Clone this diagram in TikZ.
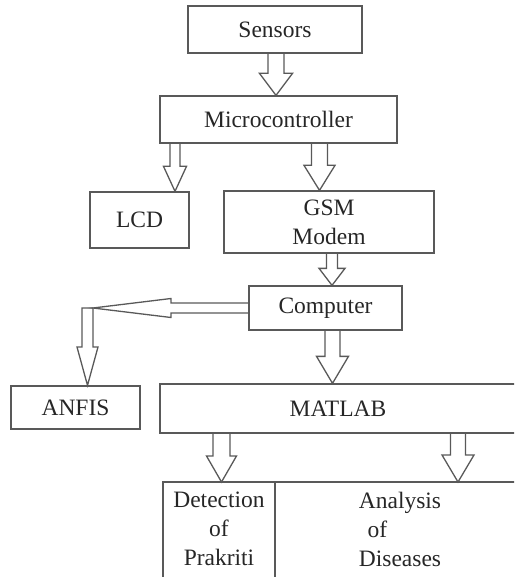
\documentclass[tikz,border=0pt]{standalone}
\usepackage{fontspec}
\setmainfont{Liberation Serif}
\usetikzlibrary{calc}

\tikzset{
  blk/.style={draw=black!65, line width=1.3pt, minimum height=47pt, inner sep=0pt,
    text=black!85, font=\fontsize{23.5}{29}\selectfont, align=center},
  barline/.style={draw=black!65, line width=1.3pt, line join=miter},
}
% hollow block arrow: start, tip, shaft half width, head half width, head length
\newcommand{\blockarrow}[5]{%
  \draw[barline] let \p1=(#1), \p2=(#2) in
    (\x1-#3pt,\y1) -- (\x1-#3pt,\y2+#5pt) -- (\x1-#4pt,\y2+#5pt) -- (\x1,\y2)
    -- (\x1+#4pt,\y2+#5pt) -- (\x1+#3pt,\y2+#5pt) -- (\x1+#3pt,\y1);}

\begin{document}
\begin{tikzpicture}[x=1pt,y=-1pt]
  \useasboundingbox (0,0) rectangle (514,577);
  \clip (0,0) rectangle (514,577);
  % boxes
  \node[blk, minimum width=174pt] (sensors) at (275,29.5) {Sensors};
  \node[blk, minimum width=237pt] (mcu) at (278.5,119.5) {Microcontroller};
  \node[blk, minimum width=99pt, minimum height=56pt] (lcd) at (139.5,220) {LCD};
  \node[blk, minimum width=210pt, minimum height=62pt] (gsm) at (329,222) {GSM\\Modem};
  \node[blk, minimum width=153pt, minimum height=44pt] (pc) at (325.5,308) {Computer};
  \node[blk, minimum width=129pt, minimum height=43pt] (anfis) at (75.5,407.5) {ANFIS};
  \node[blk, minimum width=356pt, minimum height=49pt] (matlab) at (338,408.5) {MATLAB};
  \node[blk, draw=none] (detect) at (219,529) {Detection\\of\\Prakriti};
  \node[blk, draw=none] (analysis) at (400,529) {Analysis\\\makebox[65pt][l]{of}\\Diseases};
  % bottom row, runs off the page
  \coordinate (row) at (163,482);
  \draw[barline] (163,600) |- (540,482) (275,482) -- (275,600);

  % arrows
  \blockarrow{276,0 |- sensors.south}{276,0 |- mcu.north}{8}{16.5}{22}
  \blockarrow{175,0 |- mcu.south}{175,0 |- lcd.north}{5}{11.5}{25}
  \blockarrow{319.5,0 |- mcu.south}{319.5,0 |- gsm.north}{8}{15.5}{25}
  \blockarrow{332,0 |- gsm.south}{332,0 |- pc.north}{5.5}{13}{17}
  \blockarrow{332.5,0 |- pc.south}{332.5,0 |- matlab.north}{7.5}{16}{27}
  \blockarrow{221.5,0 |- matlab.south}{221.5,0 |- row}{8.5}{15}{26}
  \blockarrow{458,0 |- matlab.south}{458,0 |- row}{7.5}{16}{27}

  % computer to anfis
  \coordinate (knee) at (93,308);
  \draw[barline] ([yshift=5pt]pc.west) -- (171,303) -- (171,298.5) -- (knee)
    -- (171,317.5) -- (171,313) -- ([yshift=-5pt]pc.west);
  \draw[barline] (knee) -- (82,308) -- (82,347) -- (77,347) -- (87.5,0 |- anfis.north)
    -- (98,347) -- (93,347) -- cycle;
\end{tikzpicture}
\end{document}
